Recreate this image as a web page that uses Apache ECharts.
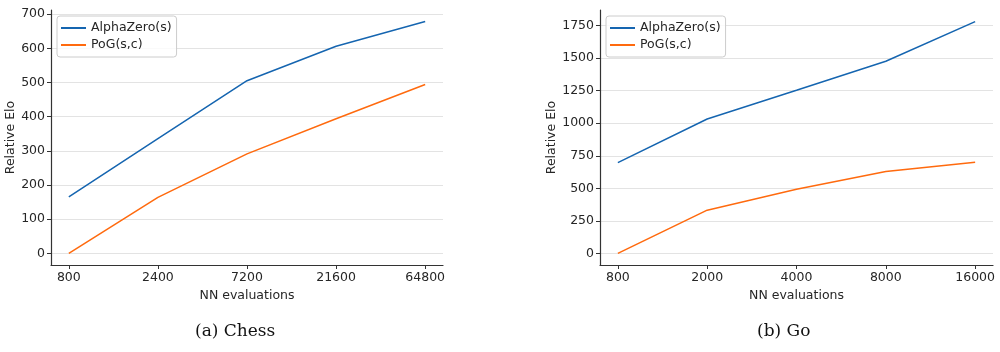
<!DOCTYPE html>
<html>
<head>
<meta charset="utf-8">
<script src="https://cdn.jsdelivr.net/npm/echarts@6/dist/echarts.min.js"></script>
<style>
  html, body { margin: 0; padding: 0; background: #fff; }
  #chart { width: 1000px; height: 352px; }
</style>
</head>
<body>
<div id="chart"></div>
<script>
// chess: NN evaluations vs relative Elo
const chessTicks = ['800', '2400', '7200', '21600', '64800'];
const chessAlpha = [165, 336, 505, 606, 678];
const chessPog = [0, 164, 291, 394, 494];
const chessYTicks = [0, 100, 200, 300, 400, 500, 600, 700];

// go
const goTicks = ['800', '2000', '4000', '8000', '16000'];
const goAlpha = [698, 1033, 1253, 1476, 1781];
const goPog = [0, 332, 493, 630, 700];
const goYTicks = [0, 250, 500, 750, 1000, 1250, 1500, 1750];

const BLUE = '#1565b0';
const ORANGE = '#ff6a0e';
const FONT = 'DejaVu Sans';
const FS = 12.5;
const AXIS = '#333';

// matplotlib style 5% margins around data
function pad(values) {
  const lo = Math.min(...values), hi = Math.max(...values);
  const m = (hi - lo) * 0.05;
  return [lo - m, hi + m];
}

const idx = [0, 1, 2, 3, 4];
const toPairs = arr => arr.map((v, i) => [i, v]);

function xAxis(gridIndex, ticks) {
  return {
    type: 'value',
    gridIndex,
    min: -0.2,
    max: 4.2,
    name: 'NN evaluations',
    nameLocation: 'middle',
    nameGap: 23,
    nameTextStyle: { fontFamily: FONT, fontSize: FS, color: '#262626' },
    axisLine: { onZero: false, lineStyle: { color: AXIS, width: 1.2 } },
    axisTick: { show: true, customValues: idx, length: 4, lineStyle: { color: AXIS } },
    axisLabel: {
      customValues: idx,
      formatter: v => ticks[Math.round(v)],
      fontFamily: FONT, fontSize: FS, color: '#262626', margin: 6,
    },
    splitLine: { show: false },
  };
}

function yAxis(gridIndex, ticks, range, gap) {
  return {
    type: 'value',
    gridIndex,
    min: range[0],
    max: range[1],
    name: 'Relative Elo',
    nameLocation: 'middle',
    nameRotate: 90,
    nameGap: gap,
    nameTextStyle: { fontFamily: FONT, fontSize: FS, color: '#262626' },
    axisLine: { show: true, onZero: false, lineStyle: { color: AXIS, width: 1.2 } },
    axisTick: { show: true, customValues: ticks, length: 4, lineStyle: { color: AXIS } },
    axisLabel: {
      customValues: ticks,
      formatter: v => String(v),
      fontFamily: FONT, fontSize: FS, color: '#262626', margin: 6,
    },
    splitLine: { show: true, lineStyle: { color: '#e3e3e3', width: 1 } },
  };
}

function legend(left) {
  return {
    left,
    top: 16,
    orient: 'vertical',
    icon: 'rect',
    itemWidth: 25,
    itemHeight: 2,
    itemGap: 3,
    itemTextGap: 8,
    padding: [5, 5, 5, 4],
    borderColor: '#ccc',
    borderWidth: 1,
    borderRadius: 3,
    backgroundColor: 'rgba(255,255,255,0.8)',
    textStyle: { fontFamily: FONT, fontSize: FS, color: '#262626', lineHeight: 14 },
    data: ['AlphaZero(s)', 'PoG(s,c)'],
  };
}

function line(name, data, color, axisIndex) {
  return {
    name,
    type: 'line',
    xAxisIndex: axisIndex,
    yAxisIndex: axisIndex,
    data: toPairs(data),
    symbol: 'none',
    lineStyle: { color, width: 1.5 },
    itemStyle: { color },
    animation: false,
  };
}

const chart = echarts.init(document.getElementById('chart'));
chart.setOption({
  backgroundColor: '#fff',
  animation: false,
  grid: [
    { left: 51, top: 10, width: 392, height: 255 },
    { left: 600, top: 10, width: 393, height: 255 },
  ],
  xAxis: [xAxis(0, chessTicks), xAxis(1, goTicks)],
  yAxis: [
    yAxis(0, chessYTicks, pad(chessAlpha.concat(chessPog)), 34),
    yAxis(1, goYTicks, pad(goAlpha.concat(goPog)), 42),
  ],
  legend: [legend(57), legend(606)],
  series: [
    line('AlphaZero(s)', chessAlpha, BLUE, 0),
    line('PoG(s,c)', chessPog, ORANGE, 0),
    line('AlphaZero(s)', goAlpha, BLUE, 1),
    line('PoG(s,c)', goPog, ORANGE, 1),
  ],
  graphic: [
    {
      type: 'text', left: 195, top: 323,
      style: { text: '(a) Chess', font: '17px "DejaVu Serif"', fill: '#111' },
    },
    {
      type: 'text', left: 757, top: 323,
      style: { text: '(b) Go', font: '17px "DejaVu Serif"', fill: '#111' },
    },
  ],
});
</script>
</body>
</html>
